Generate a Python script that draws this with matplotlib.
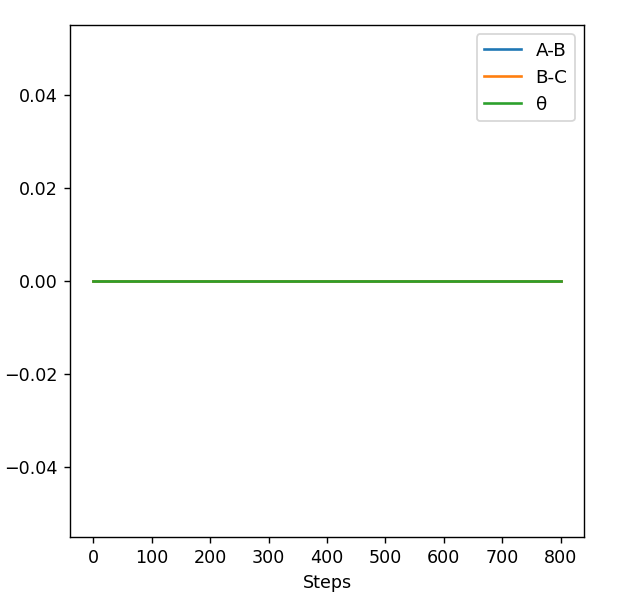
import matplotlib
matplotlib.use("Agg")
from matplotlib import pyplot as plt

# pasos y valores de cada serie (todas quedan en cero)
steps = [0, 100, 200, 300, 400, 500, 600, 700, 800]
ab = [0, 0, 0, 0, 0, 0, 0, 0, 0]
bc = [0, 0, 0, 0, 0, 0, 0, 0, 0]
theta = [0, 0, 0, 0, 0, 0, 0, 0, 0]

fig = plt.figure(figsize=(5.0, 600 / 126), dpi=126)
ax = fig.add_axes([70 / 630, 1 - 537 / 600, 514 / 630, 512 / 600])

ax.plot(steps, ab, label="A-B")
ax.plot(steps, bc, label="B-C")
ax.plot(steps, theta, label="θ")

ax.set_xlabel("Steps")
ax.legend(loc="upper right", fontsize=10.5)

fig.savefig("out.png", dpi=126)
